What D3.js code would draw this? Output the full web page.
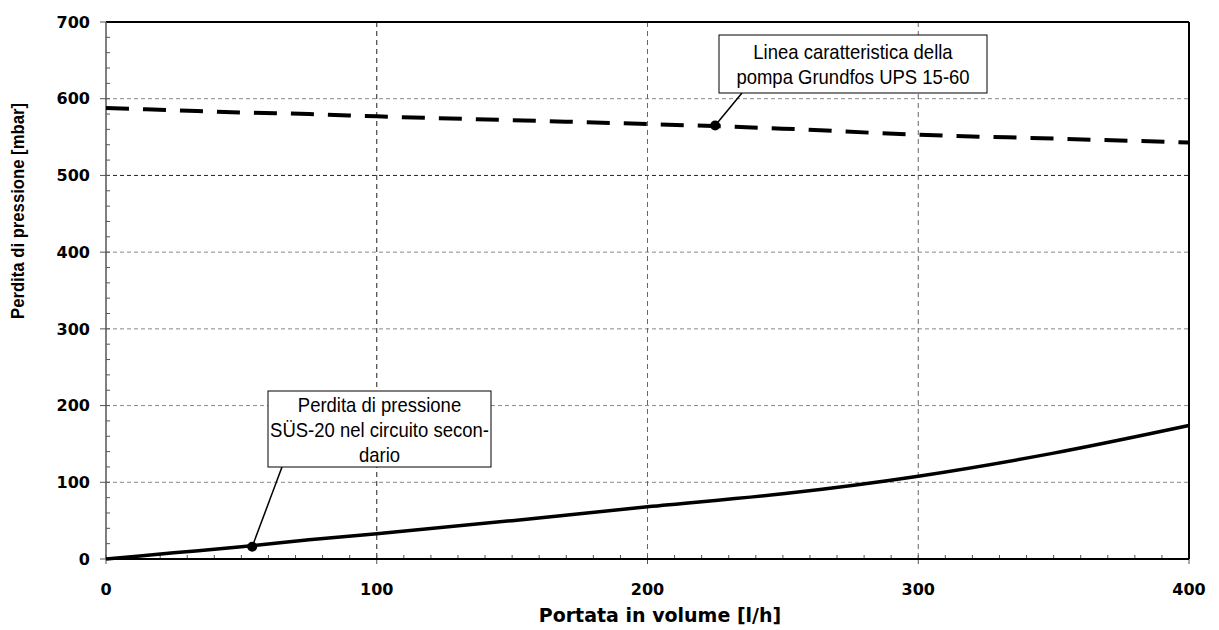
<!DOCTYPE html>
<html>
<head>
<meta charset="utf-8">
<script src="https://cdn.jsdelivr.net/npm/d3@7"></script>
<style>
body { margin: 0; background: #fff; }
text { fill: #000; }
.tick-lbl { font-family: "DejaVu Sans", Verdana, sans-serif; font-weight: bold; font-size: 16px; }
.axis-title { font-family: "DejaVu Sans", Verdana, sans-serif; font-weight: bold; font-size: 19px; }
.y-title { font-family: "Liberation Sans", Arial, sans-serif; font-weight: bold; font-size: 19px; }
.note { font-family: "Liberation Sans", Arial, sans-serif; font-size: 21px; }
</style>
</head>
<body>
<svg id="chart" width="1219" height="630"></svg>
<script>
// valori
var flowX = [0, 25, 50, 75, 100, 150, 200, 250, 300, 350, 400];
var pumpY = [588, 585, 582, 580, 577, 572, 567, 561, 553, 548, 543];
var lossY = [0, 8, 16, 25, 33, 50, 68, 85, 108, 138, 174];
var xTicks = [0, 100, 200, 300, 400];
var yTicks = [0, 100, 200, 300, 400, 500, 600, 700];
var pumpNote = ["Linea caratteristica della", "pompa Grundfos UPS 15-60"];
var lossNote = ["Perdita di pressione", "SÜS-20 nel circuito secon-", "dario"];
var pumpMark = [225, 565];
var lossMark = [54, 16];

var svg = d3.select("#chart"),
mLeft = 106, mRight = 1189, mTop = 22, mBottom = 559;

var x = d3.scaleLinear().domain([0, 400]).range([mLeft, mRight]);
var y = d3.scaleLinear().domain([0, 700]).range([mBottom, mTop]);

var g = svg.append("g");

// griglia
g.selectAll(".hgrid")
.data(yTicks.filter(function(d) { return d > 0 && d < 700; }))
.enter().append("line")
.attr("x1", mLeft).attr("x2", mRight)
.attr("y1", function(d) { return y(d); }).attr("y2", function(d) { return y(d); })
.attr("stroke", function(d) { return d == 500 ? "#222" : "#888"; })
.attr("stroke-width", 1)
.attr("stroke-dasharray", "4,3");

g.selectAll(".vgrid")
.data(xTicks.filter(function(d) { return d > 0 && d < 400; }))
.enter().append("line")
.attr("y1", mTop).attr("y2", mBottom)
.attr("x1", function(d) { return x(d); }).attr("x2", function(d) { return x(d); })
.attr("stroke", function(d) { return d == 100 ? "#222" : "#666"; })
.attr("stroke-width", 1)
.attr("stroke-dasharray", "5,4");

// tacche minori
g.selectAll(".xminor")
.data(d3.range(0, 401, 10))
.enter().append("line")
.attr("x1", function(d) { return x(d); }).attr("x2", function(d) { return x(d); })
.attr("y1", mBottom).attr("y2", mBottom - 4)
.attr("stroke", "#555");

g.selectAll(".yminor")
.data(d3.range(0, 701, 20))
.enter().append("line")
.attr("y1", function(d) { return y(d); }).attr("y2", function(d) { return y(d); })
.attr("x1", mLeft).attr("x2", mLeft + 4)
.attr("stroke", "#555");

// tacche maggiori esterne
g.selectAll(".ymajor")
.data(yTicks)
.enter().append("line")
.attr("y1", function(d) { return y(d); }).attr("y2", function(d) { return y(d); })
.attr("x1", mLeft - 6).attr("x2", mLeft)
.attr("stroke", "#555");

g.selectAll(".xmajor")
.data(xTicks)
.enter().append("line")
.attr("x1", function(d) { return x(d); }).attr("x2", function(d) { return x(d); })
.attr("y1", mBottom).attr("y2", mBottom + 5)
.attr("stroke", "#555");

// cornice
g.append("line").attr("x1", mLeft).attr("x2", mRight).attr("y1", mTop).attr("y2", mTop).attr("stroke", "#000").attr("stroke-width", 2);
g.append("line").attr("x1", mRight).attr("x2", mRight).attr("y1", mTop).attr("y2", mBottom).attr("stroke", "#000").attr("stroke-width", 2);
g.append("line").attr("x1", mLeft).attr("x2", mRight).attr("y1", mBottom).attr("y2", mBottom).attr("stroke", "#000").attr("stroke-width", 2);
g.append("line").attr("x1", mLeft).attr("x2", mLeft).attr("y1", mTop).attr("y2", mBottom).attr("stroke", "#555").attr("stroke-width", 1.5);

// etichette
g.selectAll(".ylbl")
.data(yTicks)
.enter().append("text")
.attr("class", "tick-lbl")
.attr("x", 90).attr("y", function(d) { return y(d); })
.attr("dy", "0.36em")
.attr("text-anchor", "end")
.text(function(d) { return d; });

g.selectAll(".xlbl")
.data(xTicks)
.enter().append("text")
.attr("class", "tick-lbl")
.attr("x", function(d) { return x(d); }).attr("y", 595)
.attr("text-anchor", "middle")
.text(function(d) { return d; });

g.append("text").attr("class", "axis-title")
.attr("x", 660).attr("y", 622).attr("text-anchor", "middle")
.text("Portata in volume [l/h]");

g.append("text").attr("class", "y-title")
.attr("transform", "translate(24,211) rotate(-90)")
.attr("text-anchor", "middle")
.attr("textLength", 216)
.attr("lengthAdjust", "spacingAndGlyphs")
.text("Perdita di pressione [mbar]");

// curve
var line = d3.line()
.x(function(d) { return x(d[0]); })
.y(function(d) { return y(d[1]); })
.curve(d3.curveMonotoneX);

g.append("path")
.datum(d3.zip(flowX, pumpY))
.attr("d", line)
.attr("fill", "none").attr("stroke", "#000")
.attr("stroke-width", 4)
.attr("stroke-dasharray", "23,14");

g.append("path")
.datum(d3.zip(flowX, lossY))
.attr("d", line)
.attr("fill", "none").attr("stroke", "#000")
.attr("stroke-width", 3.5);

// richiami
function callout(mark, lines, bx, by, bw, bh, ax, ay) {
    g.append("line")
    .attr("x1", x(mark[0])).attr("y1", y(mark[1]))
    .attr("x2", ax).attr("y2", ay)
    .attr("stroke", "#000").attr("stroke-width", 1.5);
    g.append("circle")
    .attr("cx", x(mark[0])).attr("cy", y(mark[1])).attr("r", 5)
    .attr("fill", "#000");
    g.append("rect")
    .attr("x", bx).attr("y", by).attr("width", bw).attr("height", bh)
    .attr("fill", "#fff").attr("stroke", "#000").attr("stroke-width", 1);
    var lh = 25;
    var y0 = by + bh / 2 - (lines.length - 1) * lh / 2;
    g.selectAll(null)
    .data(lines)
    .enter().append("text")
    .attr("class", "note")
    .attr("x", bx + bw / 2)
    .attr("y", function(d, i) { return y0 + i * lh; })
    .attr("dy", "0.36em")
    .attr("text-anchor", "middle")
    .text(function(d) { return d; })
    .each(function() {
        // carattere stretto come nell'originale
        var w = this.getComputedTextLength();
        d3.select(this).attr("textLength", w * 0.88).attr("lengthAdjust", "spacingAndGlyphs");
    });
}

callout(pumpMark, pumpNote, 719, 35, 268, 58, 742, 93);
callout(lossMark, lossNote, 268, 391, 223, 76, 282, 467);
</script>
</body>
</html>
